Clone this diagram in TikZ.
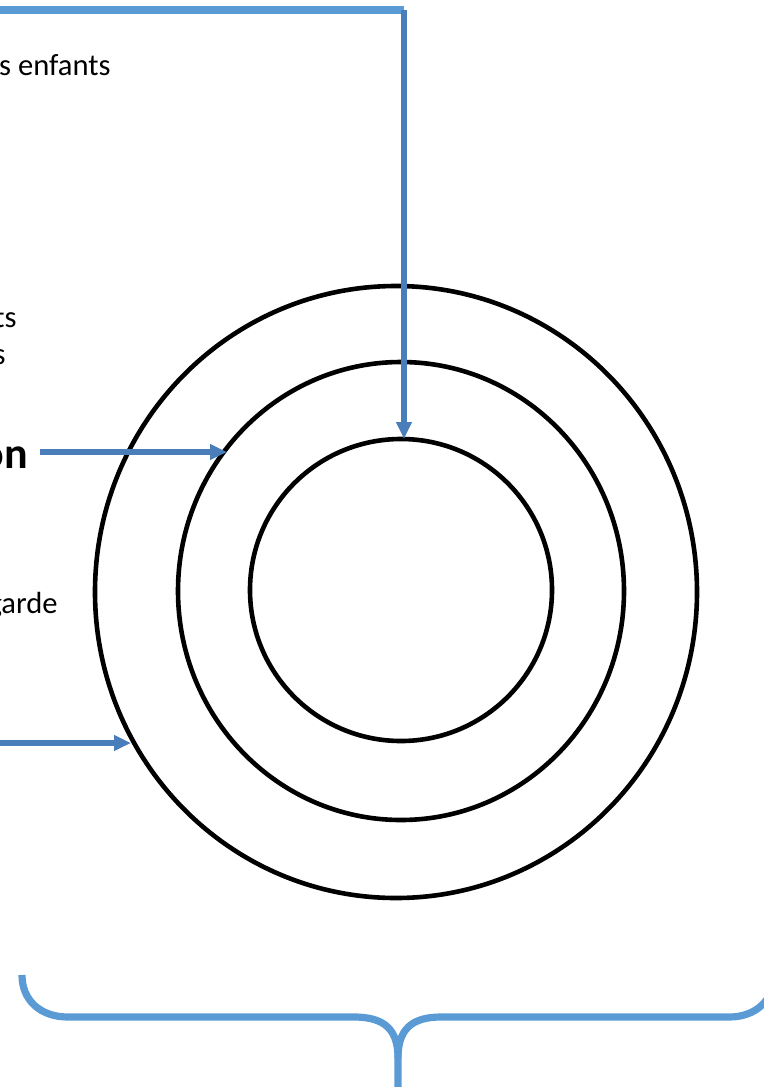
\documentclass[tikz,border=0pt]{standalone}
\usepackage{fontspec}
\setmainfont{Carlito}
\usetikzlibrary{arrows.meta}
\definecolor{lightblue}{RGB}{91,155,213}
\definecolor{darkblue}{RGB}{74,126,187}
\begin{document}
\begin{tikzpicture}[x=0.5pt,y=-0.5pt,
      ring/.style={draw=black,line width=2.3pt},
      pointer/.style={draw=darkblue,line width=2.6pt,-{Triangle[length=8.5pt,width=7.5pt]}},
      topline/.style={draw=lightblue,line width=4pt},
      brace/.style={draw=lightblue,line width=3.6pt},
      lbl/.style={anchor=base east,inner sep=0pt,font=\fontsize{15.3}{18}\selectfont}]
      \useasboundingbox (0,0) rectangle (764,1087);
      \clip (0,0) rectangle (764,1087);
      % rings
      \foreach \cx/\cy/\rx/\ry in {396/592/301/306,401/591/223/229,401/590/151/151} {
        \draw[ring] (\cx,\cy) ellipse [x radius=\rx,y radius=\ry];
      }
      % labels, cut at the left edge
      \node[lbl] (enfants) at (111,75) {s enfants};
      \node[lbl] (ts) at (17,327) {ts};
      \node[lbl] (s) at (6,364) {s};
      \node[lbl,font=\fontsize{22}{26}\selectfont\bfseries] (on) at (28,468) {on};
      \node[lbl] (garde) at (58,613) {garde};
      % arrows
      \coordinate (topleft) at (-10,10);
      \coordinate (topbend) at (404,10);
      \coordinate (innertop) at (404,439);
      \coordinate (onout) at (40,452);
      \coordinate (midhit) at (227,452);
      \coordinate (leftin) at (-10,743);
      \coordinate (outerhit) at (131,743);
      \draw[topline] (topleft) -- (topbend);
      \draw[pointer] (topbend) -- (innertop);
      \draw[pointer] (onout) -- (midhit);
      \draw[pointer] (leftin) -- (outerhit);
      % brace
      \draw[brace] (22,975) .. controls (22,1000) and (40,1017) .. (68,1017) -- (354,1017)
        .. controls (385,1017) and (398,1030) .. (398,1058) -- (398,1095);
      \draw[brace] (398,1058) .. controls (398,1030) and (411,1017) .. (441,1017) -- (729,1017)
        .. controls (756,1017) and (774,1000) .. (774,975);
    \end{tikzpicture}
\end{document}
